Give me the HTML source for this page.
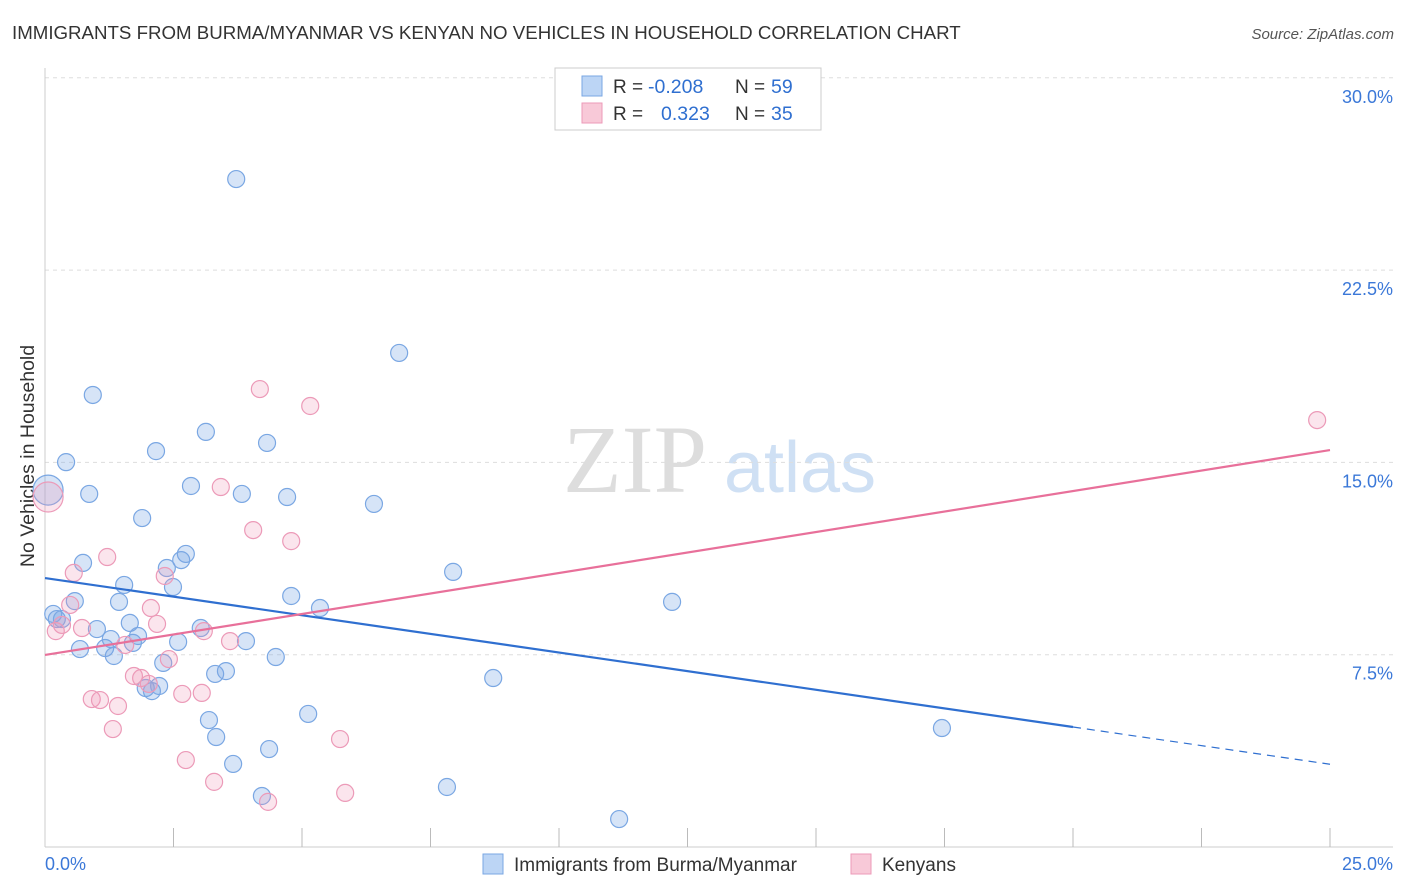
<!DOCTYPE html>
<html><head><meta charset="utf-8">
<style>
body{margin:0;background:#fff;font-family:"Liberation Sans",sans-serif;}
svg{display:block}
</style></head>
<body>
<svg id="chart" width="1406" height="892">
<text x="12" y="39" font-size="18.7" fill="#333">IMMIGRANTS FROM BURMA/MYANMAR VS KENYAN NO VEHICLES IN HOUSEHOLD CORRELATION CHART</text>
<text x="1394" y="39" font-size="15" fill="#555" font-style="italic" text-anchor="end">Source: ZipAtlas.com</text>
<text x="0" y="0" transform="translate(34,456) rotate(-90)" font-size="19.5" fill="#333" text-anchor="middle">No Vehicles in Household</text>
<g><text x="635" y="492" font-size="96" fill="#ddd" font-family="Liberation Serif,serif" text-anchor="middle">ZIP</text><text x="800" y="492" font-size="72" fill="#cfe0f4" text-anchor="middle">atlas</text></g>
<g id="grid"></g><g id="axes"></g><g id="marks"></g>
<g>
<rect x="555" y="68" width="266" height="62" fill="#fff" stroke="#ccc"/>
<rect x="582" y="76" width="20" height="20" fill="#bcd5f5" stroke="#7aa7e3"/>
<text x="613" y="93" font-size="19" fill="#333">R = </text><text x="648" y="93" font-size="19.5" fill="#2f6fd0">-0.208</text>
<text x="735" y="93" font-size="19" fill="#333">N = </text><text x="771" y="93" font-size="19.5" fill="#2f6fd0">59</text>
<rect x="582" y="103" width="20" height="20" fill="#f8c9d8" stroke="#ec9ab8"/>
<text x="613" y="120" font-size="19" fill="#333">R = </text><text x="661" y="120" font-size="19.5" fill="#2f6fd0">0.323</text>
<text x="735" y="120" font-size="19" fill="#333">N = </text><text x="771" y="120" font-size="19.5" fill="#2f6fd0">35</text>
</g>
<g>
<rect x="483" y="854" width="20" height="20" fill="#bcd5f5" stroke="#7aa7e3"/>
<text x="514" y="871" font-size="19" fill="#333">Immigrants from Burma/Myanmar</text>
<rect x="851" y="854" width="20" height="20" fill="#f8c9d8" stroke="#ec9ab8"/>
<text x="882" y="871" font-size="19" fill="#333">Kenyans</text>
</g>
</svg>
<script>
const yTicks=[7.5,15,22.5,30];
const yTickLabels=["7.5%","15.0%","22.5%","30.0%"];
const xTickCount=10;
const blueX=[3.72,6.89,0.93,3.13,4.32,2.16,0.41,0.86,2.84,3.83,4.71,6.40,1.89,0.74,2.74,2.65,2.37,7.94,1.54,2.49,0.58,1.44,4.79,5.35,12.20,0.16,0.23,0.33,1.01,1.65,1.28,1.81,2.59,3.03,3.91,1.17,0.68,1.34,1.71,2.30,4.49,3.31,3.52,8.72,1.96,2.08,2.22,3.19,5.12,17.45,3.33,4.36,3.66,7.82,4.22,11.17,0.06];
const blueY=[26.05,19.27,17.63,16.19,15.76,15.44,15.01,13.77,14.08,13.77,13.65,13.38,12.83,11.08,11.43,11.19,10.88,10.73,10.22,10.14,9.59,9.56,9.79,9.32,9.56,9.09,8.89,8.89,8.50,8.74,8.11,8.23,8.00,8.54,8.03,7.76,7.72,7.45,7.96,7.18,7.41,6.75,6.86,6.59,6.20,6.08,6.28,4.95,5.19,4.64,4.29,3.82,3.24,2.34,1.99,1.09,13.92];
const pinkX=[4.18,5.16,24.75,3.42,4.05,4.79,1.21,0.56,2.33,0.49,2.06,2.18,0.72,0.21,3.09,3.60,0.33,1.56,2.41,1.73,1.87,2.02,2.67,3.05,0.91,1.07,1.42,1.32,5.74,2.74,3.29,5.84,4.34,0.06];
const pinkY=[17.86,17.20,16.65,14.04,12.36,11.93,11.31,10.69,10.57,9.44,9.32,8.70,8.54,8.42,8.42,8.03,8.66,7.88,7.33,6.67,6.59,6.36,5.97,6.01,5.77,5.73,5.50,4.60,4.21,3.39,2.54,2.11,1.76,13.65];
const blueLine=[10.49,-0.2905];
const pinkLine=[7.49,0.3196];
const blueSolidEnd=20, xMax=25;
const NS="http://www.w3.org/2000/svg";
const X=v=>45+v/25*1285, Y=v=>847-v/7.5*192.3;
function mk(t,a,p){const e=document.createElementNS(NS,t);for(const k in a)e.setAttribute(k,a[k]);p.appendChild(e);return e;}
const grid=document.getElementById('grid'),axes=document.getElementById('axes'),marks=document.getElementById('marks');
yTicks.forEach((t,i)=>{
 const l=mk('line',{x1:45,x2:1393,y1:Y(t),y2:Y(t),stroke:'#ddd','stroke-dasharray':'4,4'},grid);
 
 
 const tx=mk('text',{x:1393,y:Y(t)+25,'font-size':18,fill:'#3b78d8','text-anchor':'end'},axes);
 tx.textContent=yTickLabels[i];
 
 
});
const ax=mk('line',{x1:45,x2:45,y1:68,y2:847,stroke:'#ccc'},axes);


const bx=mk('line',{x1:45,x2:1393,y1:847,y2:847,stroke:'#ccc'},axes);


for(let i=1;i<=xTickCount;i++){const xx=X(i*2.5);
 const t=mk('line',{x1:xx,x2:xx,y1:828,y2:847,stroke:'#bbb'},axes);
 
 }
const xl0=mk('text',{x:45,y:870,'font-size':18,fill:'#3b78d8'},axes);xl0.textContent='0.0%';


const xl1=mk('text',{x:1393,y:870,'font-size':18,fill:'#3b78d8','text-anchor':'end'},axes);xl1.textContent='25.0%';


function pts(xs,ys,fill,stroke,name){xs.forEach((x,i)=>{
 const c=mk('circle',{cx:X(x),cy:Y(ys[i]),r:(i==xs.length-1)?15:8.5,fill:fill,stroke:stroke,'stroke-width':1.2},marks);
 
 });}
pts(blueX,blueY,'rgba(120,165,230,0.3)','#7aa7e3','point-burma');
pts(pinkX,pinkY,'rgba(240,150,185,0.25)','#ec9ab8','point-kenyans');
const L=(a,x)=>a[0]+a[1]*x;
const b1=mk('line',{x1:X(0),y1:Y(L(blueLine,0)),x2:X(blueSolidEnd),y2:Y(L(blueLine,blueSolidEnd)),stroke:'#2f6fd0','stroke-width':2.2},marks);


const b2=mk('line',{x1:X(blueSolidEnd),y1:Y(L(blueLine,blueSolidEnd)),x2:X(xMax),y2:Y(L(blueLine,xMax)),stroke:'#2f6fd0','stroke-width':1.2,'stroke-dasharray':'8,6'},marks);


const p1=mk('line',{x1:X(0),y1:Y(L(pinkLine,0)),x2:X(xMax),y2:Y(L(pinkLine,xMax)),stroke:'#e8709a','stroke-width':2.2},marks);


</script>
</body></html>
